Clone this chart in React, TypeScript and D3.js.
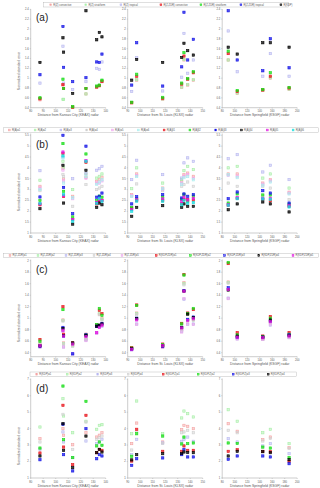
import React from 'react';
import * as d3 from 'd3';

// ---------- gauge distances (km) per radar ----------
const KEAX_DIST = [87.4, 105.8, 106.3, 113.6, 124.2, 132.8, 134.9, 137.0];
const KLSX_DIST = [93.2, 97.2, 118.0, 133.2, 135.0, 138.0, 142.5];
const KSGF_DIST = [89.6, 104.0, 145.0, 157.0, 187.0];

const X_TITLES = [
  'Distance from Kansas City (KEAX) radar',
  'Distance from St. Louis (KLSX) radar',
  'Distance from Springfield (KSGF) radar',
];
const X_TICKS_KEAX = [80, 90, 100, 110, 120, 130, 140];
const X_TICKS_KLSX = [90, 100, 110, 120, 130, 140, 150];
const X_TICKS_KSGF = [80, 100, 120, 140, 160, 180, 200];

// ---------- panel (a) ----------
const A_LABELS = ['R(Z) convective', 'R(Z) stratiform', 'R(Z) tropical', 'R(Z,ZDR) convective', 'R(Z,ZDR) stratiform', 'R(Z,ZDR) tropical', 'R(KDP)'];
const A_COLORS = ['#f4a3a3', '#a6eea6', '#b6b6f0', '#e8141c', '#18dd18', '#1414e6', '#000000'];
const A_YTICKS = [0.4, 0.6, 0.8, 1, 1.2, 1.4, 1.6, 1.8, 2, 2.2, 2.4];
const A_KEAX = [
  [0.56, 0.86, 0.79, 0.41, 0.68, 0.82, 0.84, 0.94],
  [0.60, 0.57, 0.57, 0.42, 0.68, 0.83, 0.85, 0.95],
  [0.90, 1.65, 0.90, 0.77, 0.93, 1.20, 1.18, 1.33],
  [0.58, 0.87, 0.79, 0.41, 0.79, 0.82, 0.85, 0.93],
  [0.60, 0.98, 0.79, 0.42, 0.79, 0.84, 0.86, 0.96],
  [1.07, 2.05, 1.22, 0.93, 1.01, 1.33, 1.32, 1.49],
  [1.32, 1.82, 1.53, 0.69, 2.37, 1.78, 1.93, 1.84],
];
const A_KLSX = [
  [0.50, 0.96, 0.57, 0.81, 1.37, 0.86, 0.96],
  [0.51, 0.97, 0.58, 0.82, 1.38, 0.87, 0.97],
  [0.73, 1.42, 0.74, 1.02, 1.91, 1.10, 1.37],
  [0.50, 1.04, 0.59, 0.88, 1.45, 0.98, 1.11],
  [0.51, 1.08, 0.61, 0.90, 1.52, 0.99, 1.13],
  [0.86, 1.72, 0.84, 1.23, 2.34, 1.37, 1.79],
  [0.96, 1.38, 1.32, 1.42, 1.71, 1.56, 1.47],
];
const A_KSGF = [
  [1.37, 0.69, 0.75, 1.00, 0.77],
  [1.37, 0.70, 0.76, 1.01, 0.78],
  [1.96, 1.13, 1.04, 1.50, 1.04],
  [1.50, 0.73, 0.76, 1.04, 0.80],
  [1.55, 0.75, 0.77, 1.11, 0.81],
  [2.37, 1.37, 1.15, 1.80, 1.21],
  [1.63, 1.49, 1.72, 1.72, 1.63],
];

// ---------- panel (b) ----------
const B_LABELS = ['R(A)α1', 'R(A)α2', 'R(A)α3', 'R(A)α4', 'R(A)α5', 'R(A)α6', 'R(A)β1', 'R(A)β2', 'R(A)β3', 'R(A)β4', 'R(A)β5', 'R(A)β6'];
const B_COLORS = ['#f4a3a3', '#a6eea6', '#b6b6f0', '#cfcfcf', '#f0a6f0', '#a6eeee', '#e8141c', '#18dd18', '#1414e6', '#000000', '#e014e0', '#14dede'];
const B_YTICKS = [1, 1.5, 2, 2.5, 3, 3.5, 4, 4.5, 5, 5.5];
const B_KEAX = [
  [3.15, 3.98, 3.49, 2.69, 3.57, 3.38, 3.46, 3.57],
  [3.43, 4.30, 4.03, 3.00, 3.72, 3.53, 3.61, 3.72],
  [3.87, 4.50, 3.10, 3.50, 3.74, 3.89, 3.96, 4.07],
  [2.95, 3.70, 3.60, 2.23, 3.23, 3.00, 3.07, 3.15],
  [3.07, 3.90, 3.40, 2.58, 3.52, 3.30, 3.30, 3.40],
  [3.00, 4.45, 3.30, 2.62, 3.60, 3.24, 3.35, 3.45],
  [2.30, 4.66, 2.68, 1.62, 4.26, 2.34, 2.46, 2.50],
  [2.50, 5.12, 2.92, 1.74, 4.64, 2.49, 2.70, 2.65],
  [2.66, 5.50, 3.10, 1.89, 5.00, 2.65, 2.69, 2.84],
  [2.12, 4.12, 2.38, 1.41, 3.89, 2.18, 2.38, 2.30],
  [2.34, 4.73, 2.72, 1.62, 4.33, 2.40, 2.55, 2.50],
  [2.36, 4.55, 2.78, 1.54, 4.30, 2.36, 2.60, 2.45],
];
const B_KLSX = [
  [2.77, 3.72, 3.07, 3.38, 3.69, 3.76, 3.61],
  [3.04, 4.00, 3.30, 3.46, 3.87, 4.07, 3.92],
  [3.46, 4.35, 3.69, 3.53, 4.23, 4.46, 4.30],
  [2.70, 3.26, 2.95, 3.15, 3.23, 3.35, 3.15],
  [2.72, 3.65, 3.02, 3.30, 3.62, 3.68, 3.52],
  [2.68, 3.60, 3.04, 3.25, 3.55, 3.60, 3.45],
  [2.14, 2.50, 2.50, 2.34, 2.55, 2.55, 2.52],
  [2.18, 2.57, 2.65, 2.55, 2.76, 2.46, 2.70],
  [2.34, 2.67, 2.77, 2.61, 2.80, 2.69, 2.77],
  [1.77, 2.18, 2.26, 2.18, 2.34, 2.23, 2.23],
  [2.08, 2.53, 2.57, 2.45, 2.65, 2.52, 2.60],
  [2.00, 2.47, 2.46, 2.30, 2.50, 2.37, 2.40],
];
const B_KSGF = [
  [3.72, 3.72, 3.30, 3.45, 2.88],
  [4.00, 4.07, 3.53, 3.72, 3.07],
  [4.42, 4.61, 3.81, 4.12, 3.46],
  [3.30, 3.15, 3.15, 3.07, 2.54],
  [3.65, 3.62, 3.25, 3.40, 2.84],
  [3.68, 3.55, 3.20, 3.35, 2.80],
  [2.28, 2.60, 2.55, 2.48, 2.23],
  [2.38, 2.80, 2.75, 2.75, 2.33],
  [2.58, 2.89, 2.95, 2.84, 2.38],
  [2.07, 2.34, 2.43, 2.34, 1.97],
  [2.30, 2.62, 2.60, 2.60, 2.26],
  [2.28, 2.58, 2.57, 2.55, 2.20],
];

// ---------- panel (c) ----------
const C_LABELS = ['R(Z,ZDR)α1', 'R(Z,ZDR)α2', 'R(Z,ZDR)α3', 'R(Z,ZDR)α4', 'R(Z,ZDR)α5', 'R(KDP,ZDR)α1', 'R(KDP,ZDR)α2', 'R(KDP,ZDR)α3', 'R(KDP,ZDR)α4', 'R(KDP,ZDR)α5'];
const C_COLORS = ['#f4a3a3', '#a6eea6', '#b6b6f0', '#cfcfcf', '#eaa6ea', '#e8141c', '#18dd18', '#1414e6', '#000000', '#e014e0'];
const C_YTICKS = [0.4, 0.6, 0.8, 1, 1.2, 1.4, 1.6, 1.8, 2];
const C_KEAX = [
  [0.57, 0.97, 0.57, 0.53, 0.64, 0.87, 1.07, 1.00],
  [0.53, 0.96, 0.56, 0.52, 0.63, 0.88, 1.09, 0.98],
  [0.50, 0.78, 0.50, 0.38, 0.62, 0.74, 0.84, 0.86],
  [0.55, 0.95, 0.55, 0.51, 0.64, 0.86, 1.06, 0.97],
  [0.50, 0.77, 0.50, 0.38, 0.61, 0.74, 0.85, 0.87],
  [0.63, 1.20, 0.72, 0.57, 0.72, 0.88, 1.14, 1.08],
  [0.60, 1.15, 0.70, 0.56, 0.71, 0.89, 1.17, 1.05],
  [0.51, 0.84, 0.69, 0.38, 0.71, 0.86, 0.87, 0.91],
  [0.52, 0.82, 0.70, 0.57, 0.70, 0.86, 0.88, 0.90],
  [0.52, 0.79, 0.69, 0.55, 0.68, 0.75, 0.84, 0.88],
];
const C_KLSX = [
  [0.47, 1.09, 0.52, 0.81, 1.62, 0.96, 0.98],
  [0.47, 1.08, 0.52, 0.80, 1.60, 0.97, 0.97],
  [0.45, 0.90, 0.49, 0.77, 1.33, 0.89, 0.90],
  [0.46, 1.06, 0.51, 0.80, 1.58, 0.95, 0.96],
  [0.45, 0.89, 0.49, 0.76, 1.34, 0.90, 0.89],
  [0.49, 1.23, 0.55, 0.91, 1.76, 1.09, 1.15],
  [0.48, 1.22, 0.54, 0.90, 1.75, 1.08, 1.17],
  [0.46, 1.00, 0.51, 0.84, 1.48, 0.98, 1.02],
  [0.47, 0.99, 0.52, 0.84, 1.47, 1.07, 1.01],
  [0.46, 0.97, 0.52, 0.83, 1.47, 0.96, 0.99],
];
const C_KSGF = [
  [1.63, 0.67, 0.64, 0.94, 0.68],
  [1.62, 0.66, 0.64, 0.93, 0.67],
  [1.35, 0.64, 0.63, 0.88, 0.67],
  [1.61, 0.66, 0.64, 0.92, 0.68],
  [1.34, 0.64, 0.63, 0.89, 0.66],
  [1.95, 0.75, 0.69, 1.03, 0.75],
  [1.97, 0.71, 0.68, 1.00, 0.72],
  [1.53, 0.67, 0.67, 0.95, 0.71],
  [1.49, 0.69, 0.67, 0.97, 0.70],
  [1.50, 0.67, 0.66, 0.94, 0.69],
];

// ---------- panel (d) ----------
const D_LABELS = ['R(KDP)α1', 'R(KDP)α2', 'R(KDP)α3', 'R(KDP)α4', 'R(KDP,Z)α1', 'R(KDP,Z)α2', 'R(KDP,Z)α3', 'R(KDP,Z)α4'];
const D_COLORS = ['#f4a3a3', '#a6eea6', '#b6b6f0', '#cfcfcf', '#e8141c', '#18dd18', '#1414e6', '#000000'];
const D_YTICKS = [1, 2, 3, 4, 5, 6, 7];
const D_KEAX = [
  [3.39, 4.00, 3.60, 3.02, 3.75, 3.49, 3.60, 3.75],
  [4.10, 5.82, 4.77, 3.75, 4.45, 3.96, 4.20, 4.24],
  [2.74, 3.80, 3.19, 2.24, 3.25, 3.09, 3.19, 3.35],
  [3.19, 4.87, 4.30, 2.74, 4.40, 3.35, 3.45, 3.55],
  [2.52, 5.42, 2.88, 1.81, 4.81, 2.54, 2.74, 2.68],
  [2.82, 6.59, 3.33, 2.24, 5.66, 2.95, 3.19, 2.99],
  [2.11, 4.26, 2.42, 1.43, 4.00, 2.17, 2.42, 2.34],
  [2.34, 4.30, 2.68, 1.63, 3.55, 2.54, 2.74, 2.58],
];
const D_KLSX = [
  [3.09, 4.34, 3.19, 3.94, 4.20, 4.14, 4.00],
  [3.69, 5.68, 3.69, 4.65, 5.07, 4.91, 4.71],
  [2.42, 3.35, 3.13, 3.23, 3.35, 3.49, 3.23],
  [2.70, 3.84, 3.10, 3.75, 3.80, 3.90, 3.75],
  [2.03, 3.96, 2.62, 2.62, 2.95, 2.68, 2.68],
  [2.32, 3.69, 3.55, 3.07, 3.49, 3.09, 3.13],
  [1.77, 2.17, 2.22, 2.42, 2.74, 2.28, 2.28],
  [2.10, 2.42, 2.48, 2.48, 2.58, 2.55, 2.54],
];
const D_KSGF = [
  [4.30, 3.84, 3.33, 3.49, 2.84],
  [5.15, 4.45, 3.75, 3.96, 3.09],
  [3.39, 3.19, 2.95, 3.09, 2.48],
  [3.90, 3.75, 3.25, 3.40, 2.80],
  [2.62, 2.72, 2.62, 2.60, 2.00],
  [3.13, 3.10, 2.88, 2.82, 2.24],
  [2.14, 2.34, 2.34, 2.28, 1.87],
  [2.34, 2.62, 2.60, 2.54, 2.11],
];

// ---------- layout ----------
const W = 320;
const H = 488;
const PLOT_X = [30.7, 127.7, 222.2];
const PLOT_W = 75;
const FONT = 'Liberation Sans, Arial, Helvetica, sans-serif';
const AXIS_COLOR = '#9a9a9a';
const TEXT_COLOR = '#555';

const DISTS = [KEAX_DIST, KLSX_DIST, KSGF_DIST];
const X_DOMAINS: [number, number][] = [[80, 140], [90, 150], [80, 200]];
const X_TICKS = [X_TICKS_KEAX, X_TICKS_KLSX, X_TICKS_KSGF];

type Legend = { x: number; y: number; w: number; h: number; start: number; lightN: number; lightStep: number; darkStep: number };
type Row = {
  tag: string;
  labels: string[];
  colors: string[];
  data: number[][][];
  yTicks: number[];
  yRange: [number, number];
  axisTop: number;
  axisBottom: number;
  legend: Legend;
  panelY: number;
  yTitleY: number;
};

const ROWS: Row[] = [
  {
    tag: '(a)', labels: A_LABELS, colors: A_COLORS, data: [A_KEAX, A_KLSX, A_KSGF], yTicks: A_YTICKS,
    yRange: [107.7, 9.3], axisTop: 9, axisBottom: 107.7,
    legend: { x: 43.3, y: 2.6, w: 245, h: 4.4, start: 50.7, lightN: 3, lightStep: 35.1, darkStep: 40 },
    panelY: 20.5, yTitleY: 71,
  },
  {
    tag: '(b)', labels: B_LABELS, colors: B_COLORS, data: [B_KEAX, B_KLSX, B_KSGF], yTicks: B_YTICKS,
    yRange: [233, 135.3], axisTop: 133.5, axisBottom: 233,
    legend: { x: 3.3, y: 127.8, w: 315, h: 4.4, start: 9.3, lightN: 6, lightStep: 25.8, darkStep: 25.8 },
    panelY: 147.5, yTitleY: 192,
  },
  {
    tag: '(c)', labels: C_LABELS, colors: C_COLORS, data: [C_KEAX, C_KLSX, C_KSGF], yTicks: C_YTICKS,
    yRange: [352.7, 260.7], axisTop: 259.5, axisBottom: 356.7,
    legend: { x: 3.3, y: 253.3, w: 315, h: 4.4, start: 10, lightN: 5, lightStep: 28, darkStep: 34.2 },
    panelY: 272.5, yTitleY: 323,
  },
  {
    tag: '(d)', labels: D_LABELS, colors: D_COLORS, data: [D_KEAX, D_KLSX, D_KSGF], yTicks: D_YTICKS,
    yRange: [478, 379.3], axisTop: 378.5, axisBottom: 478,
    legend: { x: 30, y: 372, w: 266.7, h: 4.4, start: 36.7, lightN: 4, lightStep: 30.5, darkStep: 35 },
    panelY: 391.5, yTitleY: 446,
  },
];

const fmt = (v: number) => String(Math.round(v * 10) / 10);

function Panel({ row }: { row: Row }) {
  const yDomain: [number, number] = [row.yTicks[0], row.yTicks[row.yTicks.length - 1]];
  const y = d3.scaleLinear().domain(yDomain).range(row.yRange);
  const lg = row.legend;
  const legendX = (i: number) =>
    i < lg.lightN ? lg.start + i * lg.lightStep : lg.start + (lg.lightN - 1) * lg.lightStep + (i - lg.lightN + 1) * lg.darkStep;
  const ms = 2.3;
  return (
    <g>
      {/* legend */}
      <rect x={lg.x} y={lg.y} width={lg.w} height={lg.h} fill="#fff" stroke="#b0b0b0" strokeWidth={0.4} />
      {row.labels.map((lab, i) => (
        <g key={'lg' + i}>
          <rect x={legendX(i) - 0.9} y={lg.y + lg.h / 2 - 0.9} width={1.8} height={1.8} fill={row.colors[i]} fillOpacity={0.6} stroke={row.colors[i]} strokeWidth={0.5} />
          <text x={legendX(i) + 2.6} y={lg.y + lg.h / 2 + 0.9} fontSize={2.6} fill={TEXT_COLOR} fontFamily={FONT}>{lab}</text>
        </g>
      ))}
      {/* y title */}
      <text
        transform={`translate(19.5,${row.yTitleY}) rotate(-90)`}
        textAnchor="middle" fontSize={3.3} fill={TEXT_COLOR} fontFamily={FONT}
      >Normalized standard error</text>
      {/* panel tag */}
      <text x={36} y={row.panelY} fontSize={10} fill="#222" fontFamily={FONT}>{row.tag}</text>
      {PLOT_X.map((x0, p) => {
        const x = d3.scaleLinear().domain(X_DOMAINS[p]).range([x0, x0 + PLOT_W]);
        const dist = DISTS[p];
        const mat = row.data[p];
        return (
          <g key={'p' + p}>
            <line x1={x0} x2={x0} y1={row.axisTop} y2={row.axisBottom} stroke={AXIS_COLOR} strokeWidth={0.5} />
            <line x1={x0} x2={x0 + PLOT_W} y1={row.axisBottom} y2={row.axisBottom} stroke={AXIS_COLOR} strokeWidth={0.5} />
            {row.yTicks.map((t) => (
              <g key={'yt' + t}>
                <line x1={x0 - 1} x2={x0} y1={y(t)} y2={y(t)} stroke={AXIS_COLOR} strokeWidth={0.4} />
                <text x={x0 - 2} y={y(t) + 0.9} textAnchor="end" fontSize={2.7} fill={TEXT_COLOR} fontFamily={FONT}>{fmt(t)}</text>
              </g>
            ))}
            {X_TICKS[p].map((t) => (
              <g key={'xt' + t}>
                <line x1={x(t)} x2={x(t)} y1={row.axisBottom} y2={row.axisBottom + 1} stroke={AXIS_COLOR} strokeWidth={0.4} />
                <text x={x(t)} y={row.axisBottom + 4.6} textAnchor="middle" fontSize={2.7} fill={TEXT_COLOR} fontFamily={FONT}>{t}</text>
              </g>
            ))}
            <text x={x0 + PLOT_W / 2} y={row.axisBottom + 8.6} textAnchor="middle" fontSize={3.4} fill={TEXT_COLOR} fontFamily={FONT}>
              {X_TITLES[p]}
            </text>
            {mat.map((series, s) =>
              series.map((v, g) => (
                <rect
                  key={`m${s}-${g}`}
                  x={x(dist[g]) - ms / 2}
                  y={y(v) - ms / 2}
                  width={ms}
                  height={ms}
                  fill={row.colors[s]}
                  fillOpacity={s < row.legend.lightN ? 0.45 : 0.75}
                  stroke={row.colors[s]}
                  strokeWidth={0.6}
                />
              ))
            )}
          </g>
        );
      })}
    </g>
  );
}

export default function App() {
  return (
    <svg
      width={W}
      height={H}
      viewBox={`0 0 ${W} ${H}`}
      style={{ position: 'absolute', left: 0, top: 0, display: 'block', background: '#fff' }}
    >
      <rect x={0} y={0} width={W} height={H} fill="#fff" />
      {ROWS.map((r) => (
        <Panel key={r.tag} row={r} />
      ))}
    </svg>
  );
}
